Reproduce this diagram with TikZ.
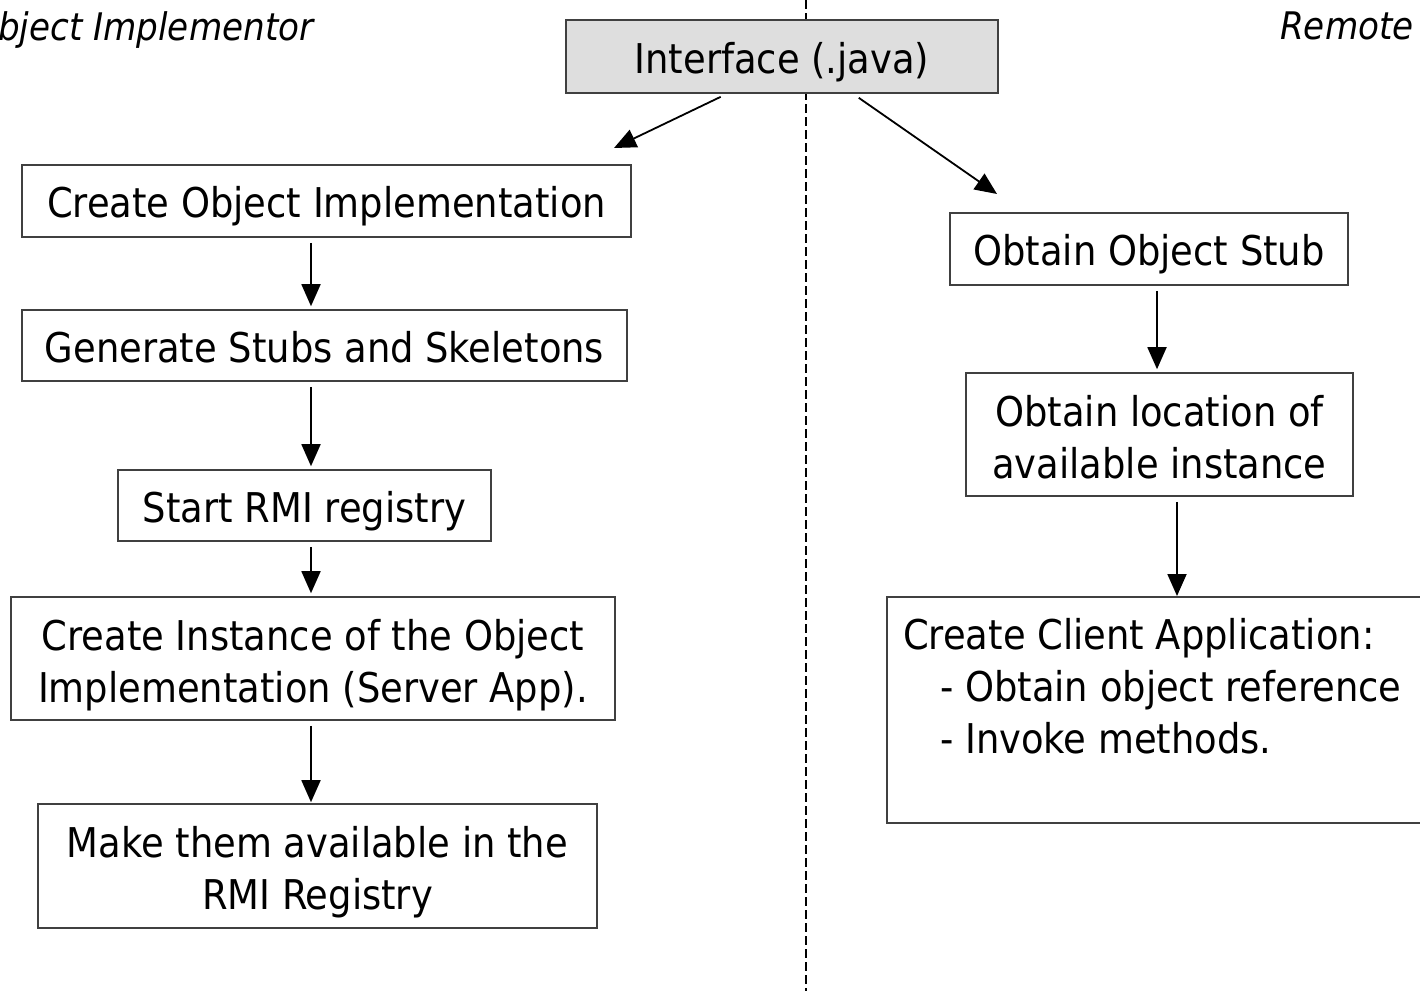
\documentclass[tikz,border=0pt]{standalone}
\usepackage{fontspec}
\setmainfont{DejaVuSansCondensed}[Extension=.ttf, ItalicFont=DejaVuSansCondensed-Oblique]
\usetikzlibrary{arrows.meta}

\begin{document}
\begin{tikzpicture}[x=1pt,y=-1pt,
  box/.style={draw=black!75, line width=1.6pt, fill=white, align=center,
    inner sep=0pt, font=\fontsize{41}{52}\selectfont},
  oneline/.style={text height=41pt, text depth=8pt},
  twoline/.style={text height=95pt, text depth=8pt},
  arr/.style={-{Triangle[length=22pt,width=19pt]}, line width=1.8pt,
    shorten <=5pt, shorten >=3pt},
  lbl/.style={font=\fontsize{38}{44}\selectfont\itshape, inner sep=0pt}]
\useasboundingbox (0,0) rectangle (1420,991);
\clip (0,0) rectangle (1420,991);

% divider between the two sides
\draw[line width=2pt, dash pattern=on 9pt off 4pt] (806,0) -- (806,991);

% side headings
\node[lbl, anchor=base west] (hleft) at (-29,40) {Object Implementor};
\node[lbl, anchor=base west] (hright) at (1280,39) {Remote};

% shared interface
\node[box, oneline, fill=black!13, minimum width=432, minimum height=73] (iface) at (782,56.5) {Interface (.java)};

% server side
\node[box, oneline, minimum width=609, minimum height=72] (cobj) at (326.5,201) {Create Object Implementation};
\node[box, oneline, minimum width=605, minimum height=71] (gen) at (324.5,345.5) {Generate Stubs and Skeletons};
\node[box, oneline, minimum width=373, minimum height=71] (reg) at (304.5,505.5) {Start RMI registry};
\node[box, twoline, minimum width=604, minimum height=123] (inst) at (313,658.5) {Create Instance of the Object\\Implementation (Server App).};
\node[box, twoline, minimum width=559, minimum height=124] (avail) at (317.5,866) {Make them available in the\\RMI Registry};

% client side
\node[box, oneline, minimum width=398, minimum height=72] (stub) at (1149,249) {Obtain Object Stub};
\node[box, twoline, minimum width=387, minimum height=123] (loc) at (1159.5,434.5) {Obtain location of\\available instance};
\node[box, anchor=north west, minimum width=560, minimum height=226] (client) at (886,596) {};
\node[anchor=base west, align=left, inner sep=0pt,
  font=\fontsize{41}{52}\selectfont] (clienttext) at (903,753)
  {Create Client Application:\\\hspace*{37pt}- Obtain object reference\\\hspace*{37pt}- Invoke methods.};

% connectors
\coordinate (lx) at (311,0);
\coordinate (ra) at (1157,0);
\coordinate (rb) at (1177,0);
\coordinate (ltip) at (614,148);
\coordinate (rtip) at (997,194);

\draw[arr, shorten <=7pt, shorten >=0pt] (iface.south -| 727,0) -- (ltip);
\draw[arr, shorten <=7pt, shorten >=0pt] (iface.south -| 853,0) -- (rtip);

\draw[arr] (cobj.south -| lx) -- (gen.north -| lx);
\draw[arr] (gen.south -| lx) -- (reg.north -| lx);
\draw[arr] (reg.south -| lx) -- (inst.north -| lx);
\draw[arr, shorten >=1pt] (inst.south -| lx) -- (avail.north -| lx);

\draw[arr] (stub.south -| ra) -- (loc.north -| ra);
\draw[arr, shorten >=0pt] (loc.south -| rb) -- (client.north -| rb);
\end{tikzpicture}
\end{document}
